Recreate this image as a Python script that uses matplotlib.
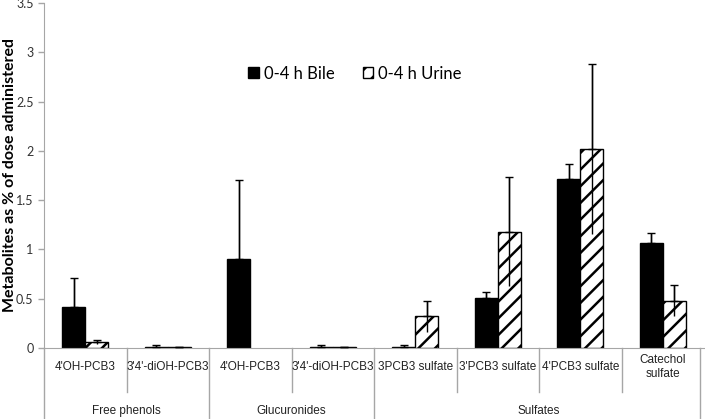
import matplotlib.pyplot as plt
import numpy as np

# Data
categories = ["4'OH-PCB3", "3'4'-diOH-PCB3", "4'OH-PCB3", "3'4'-diOH-PCB3",
              "3PCB3 sulfate", "3'PCB3 sulfate", "4'PCB3 sulfate", "Catechol\nsulfate"]
groups = ["Free phenols", "Glucuronides", "Sulfates"]
group_spans = [(0, 1), (2, 3), (4, 7)]

bile = [0.42, 0.01, 0.90, 0.01, 0.01, 0.51, 1.71, 1.07]
bile_err = [0.29, 0.02, 0.80, 0.02, 0.02, 0.06, 0.16, 0.10]
urine = [0.06, 0.01, 0.0, 0.01, 0.32, 1.18, 2.02, 0.48]
urine_err = [0.02, 0.005, 0.0, 0.005, 0.16, 0.55, 0.86, 0.16]

plt.rcParams['hatch.linewidth'] = 1.8
gray = '#a6a6a6'
cat_font = ['Liberation Sans', 'DejaVu Sans']
cal_font = ['Lato', 'DejaVu Sans']

fig = plt.figure(figsize=(7.05, 4.19), dpi=100)
ax = fig.add_axes([44/705, 71/419, 660/705, 345/419])

x = np.arange(len(categories))
w = 0.28

ax.bar(x - w/2, bile, w, color='black', edgecolor='black', linewidth=1,
       label='0-4 h Bile', zorder=2)
ub = ax.bar(x + w/2, urine, w, color='white', edgecolor='black', linewidth=1,
            hatch='//', label='0-4 h Urine', zorder=2)
for r, v in zip(ub, urine):
    if v == 0:
        r.set_visible(False)

# error bars: full line, cap on top only
for xs, v, e in [(x - w/2, bile, bile_err), (x + w/2, urine, urine_err)]:
    e = np.array(e)
    keep = e > 0
    xs, v, e = xs[keep], np.array(v)[keep], e[keep]
    ax.errorbar(xs, v, yerr=[e, e], fmt='none', ecolor='black', elinewidth=1,
                capsize=0, zorder=3)
    ax.errorbar(xs, v, yerr=[np.zeros(len(e)), e], fmt='none', ecolor='black',
                elinewidth=1, capsize=3, capthick=1, zorder=3)

ax.set_xlim(-0.5, len(categories) - 0.5)
ax.set_ylim(0, 3.5)
ax.set_yticks(np.arange(0, 3.51, 0.5))
ax.set_yticklabels(['0', '0.5', '1', '1.5', '2', '2.5', '3', '3.5'],
                   fontsize=9, family=cal_font, color='#333333')
ax.tick_params(axis='y', length=4, color=gray, width=1)
ax.set_xticks([])

for s in ['top', 'right']:
    ax.spines[s].set_visible(False)
ax.spines['left'].set_color(gray)
ax.spines['bottom'].set_color(gray)
ax.spines['left'].set_bounds(0, 3.5)

ax.set_ylabel('Metabolites as % of dose administered', fontsize=11.5,
              fontweight='bold', family=cal_font)
ax.yaxis.set_label_coords(-27/660, 0.50)

# multi-level category axis
trans = ax.get_xaxis_transform()
short = -44/345
full = -71/345
for i, c in enumerate(categories):
    ax.text(i, -19/345, c, transform=trans, ha='center', va='center',
            fontsize=8.5, family=cat_font, color='#222222', linespacing=1.3)
for b in [0.5, 2.5, 4.5, 5.5, 6.5]:
    ax.plot([b, b], [0, short], transform=trans, color=gray, lw=1, clip_on=False)
for b in [-0.5, 1.5, 3.5, 7.45]:
    ax.plot([b, b], [0, full], transform=trans, color=gray, lw=1, clip_on=False)
for g, (a, bnd) in zip(groups, group_spans):
    ax.text((a + bnd) / 2, -63/345, g, transform=trans, ha='center', va='center',
            fontsize=8.5, family=cat_font, color='#222222')

ax.legend(loc='center', bbox_to_anchor=(0.471, 0.795), ncol=2, frameon=False,
          prop={'family': cal_font, 'size': 12}, handlelength=0.65,
          handleheight=0.65, handletextpad=0.3, columnspacing=1.7)

fig.savefig('out.png', dpi=100)
